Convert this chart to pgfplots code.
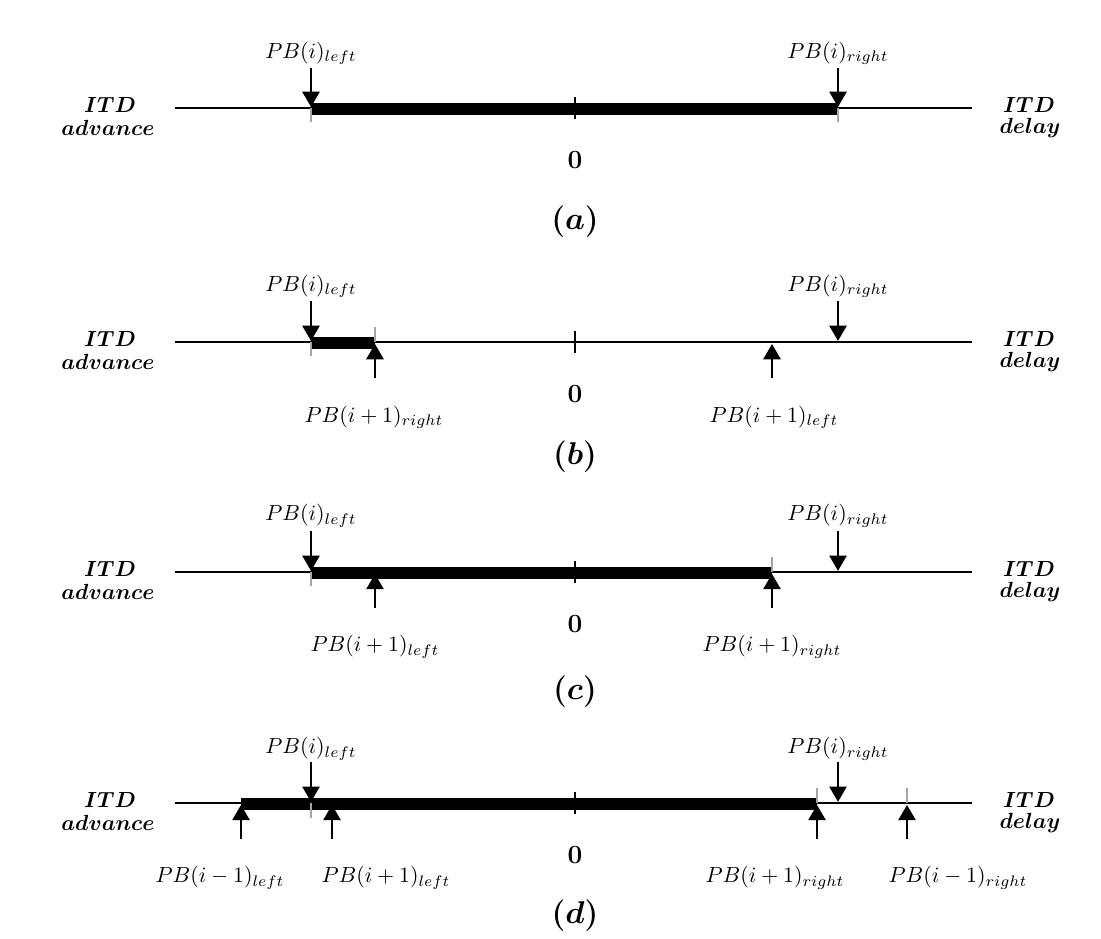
\documentclass[border=0pt]{standalone}
\usepackage{amsmath}
\usepackage{bm}
\usepackage{pgfplots}
\pgfplotsset{compat=1.18}
\usetikzlibrary{arrows.meta}
\tikzset{lab/.style={font=\Large}, zero/.style={font=\large\bfseries}}
\begin{document}
\begin{tikzpicture}
\begin{axis}[scale only axis, width=503.2pt, height=426.8pt,
  xmin=0, xmax=1101, ymin=0, ymax=934, y dir=reverse,
  hide axis, clip=false,
  every node/.style={font=\normalsize, anchor=base, inner sep=0pt},
  dn/.style={line width=1.2pt, -{Triangle[length=7pt,width=7.8pt]}},
  up/.style={line width=1.2pt, -{Triangle[length=7pt,width=7.8pt]}},
  base/.style={line width=1.2pt},
  bar/.style={line width=5.3pt},
  gt/.style={line width=0.9pt, gray!70},
  zt/.style={line width=1.1pt},
]
\addplot[draw=none] coordinates {(0,0) (1101,934)};

% ---------- panel (a), line at y=108
\addplot[base] coordinates {(175,108) (972,108)};
\addplot[bar] coordinates {(311,109) (838,109)};
\addplot[zt] coordinates {(575,97) (575,119)};
\addplot[gt] coordinates {(311,108) (311,122)};
\addplot[gt] coordinates {(838,108) (838,122)};
\addplot[dn] coordinates {(311,68) (311,107)};
\addplot[dn] coordinates {(838,68) (838,107)};
\node at (axis cs:311,53) {$PB(i)_{left}$};
\node at (axis cs:838,53) {$PB(i)_{right}$};
\node[zero] at (axis cs:575,160) {0};
\node[lab] at (axis cs:575,222) {$\bm{(a)}$};
\node at (axis cs:110,105) {$\bm{ITD}$};
\node at (axis cs:108,128) {$\bm{advance}$};
\node at (axis cs:1029,105) {$\bm{ITD}$};
\node at (axis cs:1030,128) {$\bm{delay}$};

% ---------- panel (b), line at y=342
\addplot[base] coordinates {(175,342) (972,342)};
\addplot[bar] coordinates {(311,343) (375,343)};
\addplot[zt] coordinates {(575,331) (575,353)};
\addplot[gt] coordinates {(311,342) (311,356)};
\addplot[gt] coordinates {(375,327) (375,342)};
\addplot[dn] coordinates {(311,301) (311,341)};
\addplot[dn] coordinates {(838,301) (838,341)};
\addplot[up] coordinates {(375,378) (375,344)};
\addplot[up] coordinates {(772,378) (772,344)};
\node at (axis cs:311,286) {$PB(i)_{left}$};
\node at (axis cs:838,286) {$PB(i)_{right}$};
\node at (axis cs:374,417) {$PB(i+1)_{right}$};
\node at (axis cs:774,417) {$PB(i+1)_{left}$};
\node[zero] at (axis cs:575,394) {0};
\node[lab] at (axis cs:575,457) {$\bm{(b)}$};
\node at (axis cs:110,339) {$\bm{ITD}$};
\node at (axis cs:108,362) {$\bm{advance}$};
\node at (axis cs:1029,339) {$\bm{ITD}$};
\node at (axis cs:1030,362) {$\bm{delay}$};

% ---------- panel (c), line at y=572
\addplot[base] coordinates {(175,572) (972,572)};
\addplot[bar] coordinates {(311,573) (772,573)};
\addplot[zt] coordinates {(575,561) (575,583)};
\addplot[gt] coordinates {(311,572) (311,586)};
\addplot[gt] coordinates {(772,557) (772,572)};
\addplot[dn] coordinates {(311,531) (311,571)};
\addplot[dn] coordinates {(838,531) (838,571)};
\addplot[up] coordinates {(375,608) (375,574)};
\addplot[up] coordinates {(772,608) (772,574)};
\node at (axis cs:311,516) {$PB(i)_{left}$};
\node at (axis cs:838,516) {$PB(i)_{right}$};
\node at (axis cs:375,647) {$PB(i+1)_{left}$};
\node at (axis cs:772,647) {$PB(i+1)_{right}$};
\node[zero] at (axis cs:575,624) {0};
\node[lab] at (axis cs:575,692) {$\bm{(c)}$};
\node at (axis cs:110,569) {$\bm{ITD}$};
\node at (axis cs:108,592) {$\bm{advance}$};
\node at (axis cs:1029,569) {$\bm{ITD}$};
\node at (axis cs:1030,592) {$\bm{delay}$};

% ---------- panel (d), line at y=803
\addplot[base] coordinates {(175,803) (972,803)};
\addplot[bar] coordinates {(241,804) (817,804)};
\addplot[zt] coordinates {(575,792) (575,814)};
\addplot[gt] coordinates {(311,803) (311,818)};
\addplot[gt] coordinates {(817,788) (817,803)};
\addplot[gt] coordinates {(907,788) (907,803)};
\addplot[dn] coordinates {(311,762) (311,802)};
\addplot[dn] coordinates {(838,762) (838,802)};
\addplot[up] coordinates {(241,839) (241,805)};
\addplot[up] coordinates {(332,839) (332,805)};
\addplot[up] coordinates {(817,839) (817,805)};
\addplot[up] coordinates {(907,839) (907,805)};
\node at (axis cs:311,749) {$PB(i)_{left}$};
\node at (axis cs:838,749) {$PB(i)_{right}$};
\node at (axis cs:220,878) {$PB(i-1)_{left}$};
\node at (axis cs:386,878) {$PB(i+1)_{left}$};
\node at (axis cs:775,878) {$PB(i+1)_{right}$};
\node at (axis cs:958,878) {$PB(i-1)_{right}$};
\node[zero] at (axis cs:575,855) {0};
\node[lab] at (axis cs:575,916) {$\bm{(d)}$};
\node at (axis cs:110,800) {$\bm{ITD}$};
\node at (axis cs:108,823) {$\bm{advance}$};
\node at (axis cs:1029,800) {$\bm{ITD}$};
\node at (axis cs:1030,823) {$\bm{delay}$};
\end{axis}
\end{tikzpicture}
\end{document}
